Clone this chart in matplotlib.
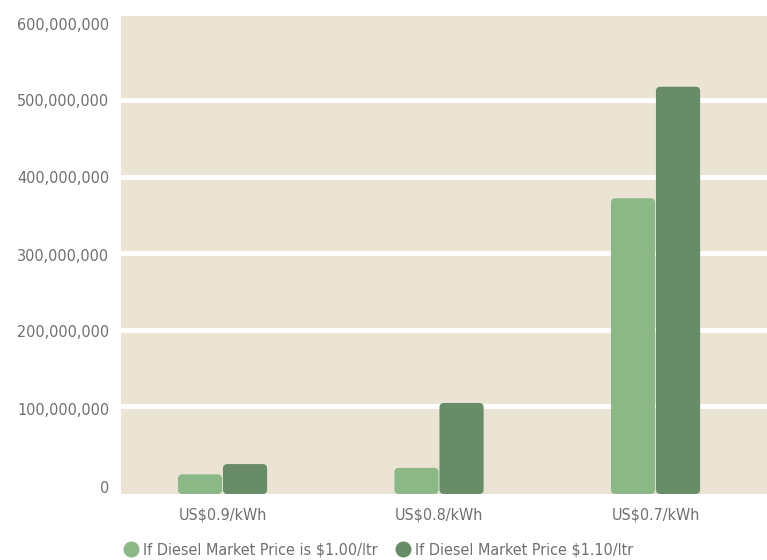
import matplotlib.pyplot as plt
import matplotlib.transforms as mtransforms
from matplotlib.patches import FancyBboxPatch
from matplotlib.lines import Line2D
import numpy as np

categories = ["US$0.9/kWh", "US$0.8/kWh", "US$0.7/kWh"]
price_100 = [10_500_000, 19_000_000, 372_000_000]
price_110 = [24_000_000, 104_000_000, 518_000_000]
series_names = ["If Diesel Market Price is $1.00/ltr", "If Diesel Market Price $1.10/ltr"]
yticks = [0, 100_000_000, 200_000_000, 300_000_000, 400_000_000, 500_000_000, 600_000_000]

light = "#8bb886"
dark = "#688c68"
bg = "#ebe4d5"
txt = "#6f6f6f"

plt.rcParams['font.family'] = ['DejaVu Sans']
plt.rcParams['font.stretch'] = 'condensed'

W, H = 767, 560
fig = plt.figure(figsize=(W / 100, H / 100), dpi=100)
# axes box in pixels: left 121, right 767, top 16, bottom 494
ax = fig.add_axes([121 / W, (H - 494) / H, (767 - 121) / W, (494 - 16) / H])
ax.set_facecolor(bg)

ymin, ymax = -15_200_000, 610_600_000
ax.set_xlim(-0.469, 2.515)
ax.set_ylim(ymin, ymax)

x = np.arange(len(categories))
bw = 0.204
gap = 0.002

# white guide lines only between the end ticks
for v in yticks[1:-1]:
    ax.axhline(v, color="white", linewidth=3.5, zorder=1)

# rounded bars: build plain bars, then swap each for a rounded patch
px_x = 216.5            # pixels per x unit
px_y = 76.4 / 1e8       # pixels per y unit
radius_px = 4.5
for vals, col, off in [(price_100, light, -bw / 2 - gap), (price_110, dark, bw / 2 + gap)]:
    bars = ax.bar(x + off, np.array(vals) - ymin, bottom=ymin, width=bw, color=col)
    for b in bars:
        b.set_visible(False)
        p = FancyBboxPatch((b.get_x(), b.get_y()), b.get_width(), b.get_height(),
                           boxstyle=f"round,pad=0,rounding_size={radius_px / px_x}",
                           mutation_aspect=px_x / px_y,
                           facecolor=col, edgecolor="none", zorder=3)
        ax.add_patch(p)

ax.set_yticks(yticks)
ax.set_yticklabels([f"{v:,}" for v in yticks])
ax.set_xticks(x)
ax.set_xticklabels(categories)
ax.tick_params(length=0, colors=txt, labelsize=11.5)
ax.tick_params(axis="y", pad=8.5)
ax.tick_params(axis="x", pad=10)
for s in ax.spines.values():
    s.set_visible(False)

# lower labels sit a little below their lines
drops = {0: 5, 100_000_000: 3, 200_000_000: 1.5, 300_000_000: 1.5}
for v, lab in zip(yticks, ax.get_yticklabels()):
    d = drops.get(v, 0)
    if d:
        lab.set_transform(lab.get_transform() +
                          mtransforms.ScaledTranslation(0, -d / 100, fig.dpi_scale_trans))

handles = [Line2D([], [], marker="o", linestyle="none", markersize=11.5,
                  markerfacecolor=c, markeredgecolor="none") for c in (light, dark)]
fig.legend(handles, series_names, loc="center", bbox_to_anchor=(378 / W, 1 - 550 / H),
           ncol=2, frameon=False, fontsize=11.5, labelcolor=txt,
           handletextpad=0.25, columnspacing=1.1, handlelength=1.0)

fig.savefig("out.png", dpi=100)
